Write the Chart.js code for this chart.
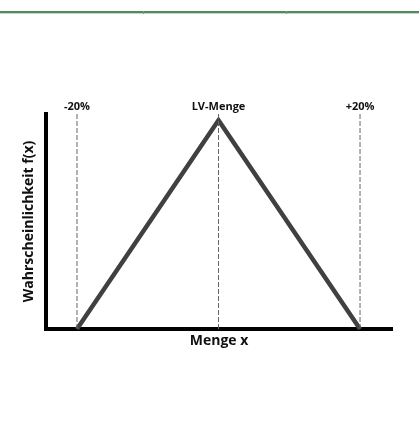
<!DOCTYPE html>
<html><head><meta charset="utf-8">
<script src="https://cdn.jsdelivr.net/npm/chart.js@4.4.1/dist/chart.umd.min.js"></script>
<style>
html,body{margin:0;padding:0;background:#fff;width:419px;height:431px;overflow:hidden}
#wrap{position:relative;width:419px;height:431px}
canvas{position:absolute;left:0;top:0}
#bar{position:absolute;left:0;top:11px;width:419px;height:2px;background:#4e8b5d}
#bar2{position:absolute;left:0;top:13px;width:419px;height:1px;background:#c6d6ca}
.tk{position:absolute;top:11px;width:1px;height:3px;background:#7a9a82}
</style></head>
<body><div id="wrap">
<canvas id="c" width="419" height="431"></canvas>
<div id="bar"></div><div id="bar2"></div>
<div class="tk" style="left:143px"></div><div class="tk" style="left:286px"></div>
</div>
<script>
// Data
const xValues = [80, 100, 120];          // Menge x (-20%, LV-Menge, +20%)
const density = [0, 1, 0];               // Wahrscheinlichkeit f(x)
const markerPositions = [80, 100, 120];
const markerLabels = ['-20%', 'LV-Menge', '+20%'];
const xTitle = 'Menge x';
const yTitle = 'Wahrscheinlichkeit f(x)';
const xMin = 75.62, xMax = 124.52, yMax = 1.03;

const triangle = xValues.map((x, i) => ({x: x, y: density[i]}));
const dashedSets = markerPositions.map(p => ({
  data: [{x: p, y: 0}, {x: p, y: yMax}],
  borderColor: '#666666', borderWidth: 1, borderDash: [5, 2],
  pointRadius: 0, fill: false, clip: false
}));

const labelMap = {};
markerPositions.forEach((p, i) => labelMap[p] = markerLabels[i]);

new Chart(document.getElementById('c'), {
  type: 'line',
  data: {
    datasets: [
      ...dashedSets,
      {data: triangle, borderColor: '#404040', borderWidth: 4.5, pointRadius: 0,
       fill: false, clip: false, borderJoinStyle: 'miter', tension: 0}
    ]
  },
  options: {
    responsive: false, animation: false,
    layout: {padding: {left: 21, right: 27, top: 0, bottom: 82}},
    plugins: {legend: {display: false}, tooltip: {enabled: false}},
    scales: {
      x: {
        type: 'linear', position: 'bottom', min: xMin, max: xMax,
        afterFit: s => { s.height = 20; },
        ticks: {display: false},
        grid: {display: true, drawOnChartArea: false, drawTicks: false, color: 'transparent'},
        border: {display: true, color: '#000', width: 4},
        title: {display: true, text: xTitle, color: '#111', padding: {top: 0, bottom: 0},
                font: {family: 'Open Sans', weight: 'bold', size: 14}}
      },
      x2: {
        type: 'linear', position: 'top', min: xMin, max: xMax,
        afterFit: s => { s.height = 114; },
        afterBuildTicks: s => { s.ticks = markerPositions.map(v => ({value: v})); },
        ticks: {display: true, autoSkip: false, maxRotation: 0, padding: 1, color: '#111',
                font: {family: 'Open Sans', weight: 'bold', size: 11},
                callback: v => labelMap[v] || ''},
        grid: {display: false, drawTicks: false, tickLength: 0},
        border: {display: false}
      },
      y: {
        type: 'linear', min: 0, max: yMax,
        afterFit: s => { s.width = 25; },
        ticks: {display: false},
        grid: {display: true, drawOnChartArea: false, drawTicks: false, color: 'transparent'},
        border: {display: true, color: '#000', width: 4},
        title: {display: true, text: yTitle, color: '#111', padding: {top: 0, bottom: 0},
                font: {family: 'Open Sans', weight: 'bold', size: 14}}
      }
    }
  }
});
</script>
</body></html>
